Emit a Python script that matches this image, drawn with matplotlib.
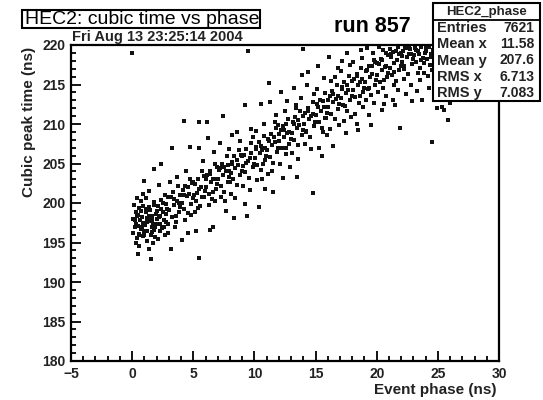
import matplotlib
matplotlib.use("Agg")
import matplotlib.pyplot as plt
from matplotlib.patches import Rectangle
from matplotlib.ticker import MultipleLocator

plt.rcParams['font.family'] = ['Liberation Sans', 'DejaVu Sans']

# ---- data (event phase [ns], cubic peak time [ns]) ----
phase_ns = [
 0.1,0.2,0.3,0.4,0.5,0.6,0.7,0.8,0.9,0.15,0.25,0.35,0.45,0.55,0.65,0.75,0.85,0.95,0.05,0.5,0.0,0.7,0.3,0.9,0.6,
 1.05,1.15,1.25,1.35,1.45,1.55,1.65,1.75,1.85,1.95,1.1,1.2,1.3,1.4,1.5,1.6,1.7,1.8,1.9,1.54,1.4,1.8,1.25,1.65,1.0,
 2.05,2.15,2.25,2.35,2.45,2.55,2.65,2.75,2.85,2.95,2.1,2.3,2.5,2.7,2.9,2.2,2.6,2.8,2.4,2.0,
 3.05,3.15,3.25,3.35,3.45,3.55,3.65,3.75,3.85,3.95,3.2,3.5,3.7,3.3,3.9,3.6,3.1,
 4.05,4.15,4.25,4.35,4.45,4.55,4.65,4.75,4.85,4.95,4.1,4.6,4.2,4.7,4.4,4.9,4.3,4.8,
 5.05,5.15,5.25,5.35,5.45,5.55,5.65,5.75,5.85,5.95,5.2,5.47,5.5,5.5,5.8,5.1,5.4,5.9,
 6.05,6.15,6.25,6.35,6.45,6.55,6.65,6.75,6.85,6.95,6.4,6.6,6.1,6.3,6.7,6.9,6.2,6.8,
 7.05,7.15,7.25,7.35,7.45,7.55,7.65,7.75,7.85,7.95,7.4,7.7,7.6,7.2,7.9,7.3,7.8,
 8.05,8.15,8.25,8.35,8.45,8.55,8.65,8.75,8.85,8.95,8.3,8.6,8.1,8.8,8.4,8.9,8.2,
 9.05,9.15,9.25,9.35,9.45,9.55,9.65,9.75,9.85,9.95,9.4,9.2,9.2,9.5,9.7,9.1,9.9,9.6,
 10.05,10.15,10.25,10.35,10.45,10.55,10.65,10.75,10.85,10.95,10.4,10.5,10.2,10.8,10.6,10.1,10.9,
 11.05,11.15,11.25,11.35,11.45,11.55,11.65,11.75,11.85,11.95,11.5,11.3,11.1,11.8,11.4,11.7,11.2,
 12.05,12.15,12.25,12.35,12.45,12.55,12.65,12.75,12.85,12.95,12.3,12.7,12.1,12.5,12.9,12.2,12.6,
 13.05,13.15,13.25,13.35,13.45,13.55,13.65,13.75,13.85,13.95,13.5,13.2,13.8,13.1,13.6,13.4,13.9,
 14.05,14.15,14.25,14.35,14.45,14.55,14.65,14.75,14.85,14.95,14.8,14.0,14.3,14.6,14.1,14.9,14.4,
 15.05,15.15,15.25,15.35,15.45,15.55,15.65,15.75,15.85,15.95,15.3,15.7,15.2,15.5,15.9,15.1,15.6,
 16.05,16.15,16.25,16.35,16.45,16.55,16.65,16.75,16.85,16.95,16.4,16.8,16.2,16.6,16.1,16.9,16.3,
 17.05,17.15,17.25,17.35,17.45,17.55,17.65,17.75,17.85,17.95,17.5,17.2,17.8,17.3,17.6,17.9,17.1,
 18.05,18.15,18.25,18.35,18.45,18.55,18.65,18.75,18.85,18.95,18.4,18.7,18.2,18.8,18.5,18.1,18.9,
 19.05,19.15,19.25,19.35,19.45,19.55,19.65,19.75,19.85,19.95,19.5,19.2,19.8,19.4,19.7,19.1,19.9,
 20.05,20.15,20.25,20.35,20.45,20.55,20.65,20.75,20.85,20.95,20.4,20.8,20.2,20.6,20.1,20.9,20.5,
 21.05,21.15,21.25,21.35,21.45,21.55,21.65,21.75,21.85,21.95,21.9,21.3,21.7,21.1,21.5,21.8,21.4,
 22.05,22.15,22.25,22.35,22.45,22.55,22.65,22.75,22.85,22.95,22.4,22.8,22.2,22.6,22.9,22.1,
 23.05,23.15,23.25,23.35,23.45,23.55,23.65,23.75,23.85,23.95,23.3,23.7,23.5,23.9,23.1,
 24.05,24.15,24.25,24.35,24.45,24.55,24.5,24.3,24.7,24.9,24.2,24.6,24.8,
 25.3,25.8,25.5,26.0,25.2,25.6,26.1,26.5,
 0.2,0.4,0.6,0.8,1.0,1.2,1.4,1.6,1.8,2.0,2.2,2.4,2.6,2.8,1.1,0.9,1.7,2.3,0.4,2.9,
 3.4,3.8,4.2,4.6,5.0,5.3,5.7,6.0,6.4,6.8,7.1,7.5,7.9,8.2,8.6,9.0,9.3,9.7,8.0,6.6,
 10.1,10.5,10.9,11.2,11.6,12.0,12.4,12.8,13.2,13.6,14.0,14.4,14.8,15.2,15.6,16.0,16.4,16.8,10.7,12.6,14.2,15.8,11.9,13.4,
 17.2,17.6,18.0,18.4,18.8,19.2,19.6,20.0,20.4,20.8,21.2,21.6,22.0,22.4,22.8,23.2,23.6,24.0,17.4,18.6,19.4,20.6,21.4,22.2,23.4,24.4,
]
peak_ns = [
 196.2,197.8,198.9,195.6,197.1,199.4,196.7,198.2,197.5,199.8,196.9,194.9,198.5,196.0,197.9,200.3,195.8,196.4,198.0,193.5,219.0,199.0,197.3,201.2,194.5,
 197.2,198.8,196.5,199.5,197.7,195.9,198.3,200.1,196.9,198.6,200.6,195.2,197.9,194.2,199.1,196.3,197.4,199.8,195.7,192.9,201.5,204.3,198.1,196.9,202.8,
 198.0,199.6,197.3,200.4,196.8,198.9,201.0,197.6,199.2,196.2,195.5,198.4,200.0,195.9,200.8,202.3,197.9,198.6,205.0,199.0,
 199.1,200.7,198.2,201.4,199.8,197.6,200.2,202.1,198.8,199.5,194.2,196.9,203.3,207.0,201.0,198.3,202.6,
 200.0,201.6,199.3,202.2,200.9,198.7,201.2,203.0,199.9,200.6,195.3,196.2,210.4,207.1,204.0,202.5,197.9,198.5,
 201.0,202.4,200.3,203.1,201.8,199.6,202.0,204.0,200.8,201.5,196.4,193.0,210.3,207.0,205.3,198.9,199.4,203.4,
 202.0,203.5,201.2,204.1,202.7,200.5,203.0,205.0,201.8,202.4,196.6,196.9,210.3,199.8,206.4,204.5,208.2,200.2,
 203.0,204.4,202.1,205.0,203.6,201.4,204.0,205.9,202.7,203.3,211.0,199.0,200.3,207.6,206.8,200.8,204.8,
 203.8,205.2,203.0,205.9,204.4,202.3,204.8,206.7,203.6,204.1,198.1,209.0,201.2,207.9,200.6,206.1,208.6,
 204.7,206.1,203.9,206.8,205.3,203.2,205.7,207.6,204.5,205.0,198.4,199.9,212.4,219.3,209.4,202.1,208.3,201.6,
 205.7,207.1,204.8,207.7,206.3,204.2,206.7,208.5,205.4,206.0,199.5,212.5,202.9,210.0,203.0,209.1,201.8,
 206.7,208.1,205.8,208.7,207.3,205.1,207.7,209.5,206.4,207.0,201.4,212.8,203.7,211.2,204.0,210.3,215.2,
 207.8,209.2,206.9,209.8,208.4,206.2,208.8,210.6,207.5,208.1,203.2,212.9,205.0,211.6,204.6,214.0,210.0,
 208.9,210.3,208.0,210.9,209.5,207.3,209.9,211.7,208.6,209.2,203.3,214.5,213.3,206.3,205.6,212.4,216.2,
 210.0,211.4,209.1,212.0,210.6,208.4,211.0,212.8,209.7,210.3,201.3,219.5,214.9,206.8,207.5,213.8,216.6,
 211.1,212.5,210.2,213.1,211.7,209.5,212.1,213.9,210.8,211.4,207.0,215.8,217.4,205.9,208.6,214.4,209.0,
 212.2,213.6,211.3,214.2,212.8,210.6,213.2,215.0,211.9,212.5,207.2,217.1,209.4,216.0,218.5,209.9,215.5,
 213.3,214.7,212.4,215.3,213.9,211.7,214.3,216.1,213.0,213.6,208.8,218.0,217.5,210.4,219.0,210.9,216.7,
 214.3,215.7,213.4,216.3,214.9,212.7,215.3,217.1,214.0,214.6,210.0,219.4,211.3,218.3,209.2,217.8,212.2,
 215.3,216.7,214.4,217.3,215.9,213.7,216.3,218.1,215.0,215.6,209.9,219.6,212.6,211.2,219.0,213.0,217.8,
 216.2,217.6,215.3,218.2,216.8,214.6,217.2,219.0,215.9,216.5,211.8,213.5,219.7,212.5,214.0,218.7,219.4,
 217.1,218.5,216.2,219.1,217.7,215.5,218.1,219.8,216.8,217.4,209.5,213.0,214.3,219.5,212.4,218.9,215.0,
 217.9,219.2,217.0,219.7,218.5,216.3,218.9,219.5,217.6,218.2,213.8,215.0,215.7,219.9,212.9,218.6,
 218.7,219.6,217.8,219.3,218.9,217.1,219.7,218.4,216.4,219.0,214.2,213.0,215.6,217.7,219.9,
 219.2,218.2,219.7,217.5,218.8,216.8,207.7,214.6,215.5,212.0,216.1,219.4,217.9,
 212.2,210.5,211.8,212.6,216.0,218.0,219.5,217.0,
 197.0,198.3,196.1,197.0,196.0,197.6,198.4,197.9,196.6,197.4,198.2,199.3,196.9,199.9,199.2,199.6,195.0,196.4,200.6,197.4,
 200.5,200.0,201.0,202.0,202.6,201.3,200.7,203.0,203.7,203.1,204.2,204.6,204.0,205.0,205.5,205.9,205.1,206.3,202.6,201.4,
 206.8,207.2,206.9,207.9,208.3,208.7,209.3,209.0,210.0,210.5,211.0,211.6,211.3,212.2,212.9,213.1,213.8,213.5,205.0,207.0,209.0,210.8,209.9,212.0,
 214.4,215.0,215.4,216.1,215.7,216.8,217.3,217.7,218.1,217.4,218.8,219.2,219.0,219.6,218.8,219.4,218.1,219.8,212.3,213.6,214.6,215.6,216.6,217.4,216.5,218.5,
]

x_ticks = [-5, 0, 5, 10, 15, 20, 25, 30]
y_ticks = [180, 185, 190, 195, 200, 205, 210, 215, 220]
stat_names = ["Entries", "Mean x", "Mean y", "RMS x", "RMS y"]
stat_values = ["7621", "11.58", "207.6", "6.713", "7.083"]

W, H = 543, 400
fig = plt.figure(figsize=(W / 100, H / 100), dpi=100)

def fx(px):
    return px / W

def fy(py):
    return 1 - py / H

L, R, T, B = 71, 499, 45, 361
ax = fig.add_axes([fx(L), fy(B), fx(R) - fx(L), fy(T) - fy(B)])
ax.scatter(phase_ns, peak_ns, s=5.5, marker='s', color='#111111', linewidths=0)
ax.set_xlim(x_ticks[0], x_ticks[-1])
ax.set_ylim(y_ticks[0], y_ticks[-1])
ax.set_xticks(x_ticks)
ax.set_yticks(y_ticks)
ax.xaxis.set_minor_locator(MultipleLocator(1))
ax.yaxis.set_minor_locator(MultipleLocator(1))
ax.tick_params(which='both', direction='in', top=False, right=False, width=1.3, color='black')
ax.tick_params(which='major', length=7)
ax.tick_params(which='minor', length=3.5)
ax.tick_params(axis='both', labelsize=10)
ax.tick_params(axis='x', pad=4)
ax.tick_params(axis='y', pad=4)
for lab in ax.get_xticklabels() + ax.get_yticklabels():
    lab.set_fontweight('bold')
    lab.set_color('#222222')
for sp in ax.spines.values():
    sp.set_linewidth(1.6)

# axis titles
fig.text(fx(497), fy(390), "Event phase (ns)", ha='right', va='center',
         fontsize=11, fontweight='bold', color='#222222')
fig.text(fx(29), fy(47), "Cubic peak time (ns)", ha='center', va='top',
         rotation=90, fontsize=11, fontweight='bold', color='#222222')

# title box
fig.add_artist(Rectangle((fx(22), fy(28)), fx(260) - fx(22), fy(10) - fy(28),
                         transform=fig.transFigure, facecolor='white',
                         edgecolor='black', linewidth=1.5, zorder=5))
fig.text(fx(25), fy(19), "HEC2: cubic time vs phase", ha='left', va='center',
         fontsize=14, color='black', zorder=6)

# date
fig.text(fx(72), fy(44), "Fri Aug 13 23:25:14 2004", ha='left', va='bottom',
         fontsize=10.5, fontweight='bold', color='#222222')

# run label
fig.text(fx(334), fy(27), "run 857", ha='left', va='center',
         fontsize=15.5, fontweight='bold', color='black')

# stats box
bx0, bx1, by0, by1, hdr = 433, 540, 3, 101, 20
fig.add_artist(Rectangle((fx(bx0), fy(by1)), fx(bx1) - fx(bx0), fy(by0) - fy(by1),
                         transform=fig.transFigure, facecolor='white',
                         edgecolor='black', linewidth=1.5, zorder=5))
fig.add_artist(plt.Line2D([fx(bx0), fx(bx1)], [fy(hdr), fy(hdr)],
                          transform=fig.transFigure, color='black', linewidth=1.3, zorder=6))
fig.text(fx((bx0 + bx1) / 2), fy(11.5), "HEC2_phase", ha='center', va='center',
         fontsize=9.5, fontweight='bold', color='#222222', zorder=7)
row_h = (by1 - hdr) / len(stat_names)
for i, (n, v) in enumerate(zip(stat_names, stat_values)):
    yy = hdr + row_h * (i + 0.5)
    fig.text(fx(bx0 + 4), fy(yy), n, ha='left', va='center', fontsize=10.5,
             fontweight='bold', color='#222222', zorder=7)
    fig.text(fx(bx1 - 6), fy(yy), v, ha='right', va='center', fontsize=10,
             fontweight='bold', color='#222222', zorder=7)

fig.savefig("out.png", dpi=100)
